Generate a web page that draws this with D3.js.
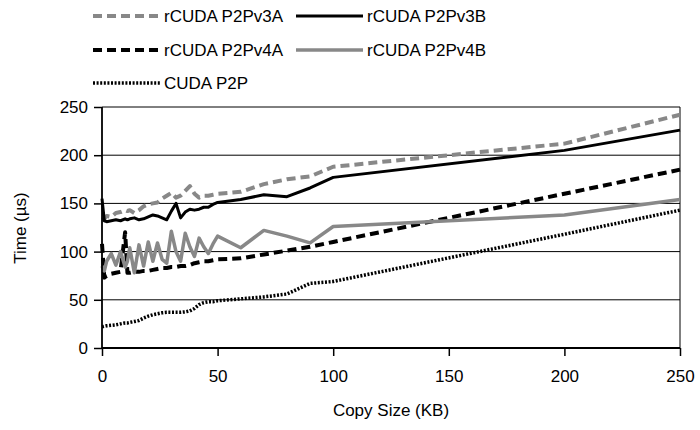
<!DOCTYPE html>
<html>
<head>
<meta charset="utf-8">
<script src="https://cdn.jsdelivr.net/npm/d3@7"></script>
<style>
  body { margin: 0; background: #fff; }
  svg { font-family: "Liberation Sans", Arial, sans-serif; }
</style>
</head>
<body>
<svg id="chart" width="700" height="430"></svg>
<script>
// copy sizes (KB), shared by every series
var sizes = [0, 1, 2, 4, 6, 8, 10, 11, 12, 14, 16, 18, 20, 22, 24, 26, 28, 30, 32, 34,
             36, 38, 40, 42, 44, 46, 48, 50, 60, 70, 80, 90, 100, 200, 250];

var v3A = [133, 134, 137, 136, 140, 141, 143, 142, 143, 140, 143, 147, 149, 150, 151, 155, 158, 161, 156, 158,
           163, 168, 160, 156, 158, 158, 159, 160, 162, 170, 175, 178, 188, 212, 242];
var v3B = [155, 132, 131, 132, 133, 132, 134, 133, 134, 135, 133, 134, 136, 138, 137, 135, 133, 142, 150, 135,
           141, 144, 143, 144, 146, 146, 149, 151, 154, 159, 157, 166, 177, 205, 226];
var v4A = [108, 73, 75, 77, 78, 79, 120, 78, 78, 79, 79, 80, 80, 81, 82, 83, 83, 84, 84, 85,
           85, 86, 88, 89, 90, 90, 91, 92, 93, 97, 101, 105, 110, 160, 185];
var v4B = [85, 80, 90, 98, 86, 100, 84, 90, 104, 78, 107, 85, 110, 90, 109, 92, 88, 121, 100, 90,
           119, 105, 95, 114, 105, 98, 108, 116, 104, 122, 116, 109, 126, 138, 154];
var cuda = [22, 22.5, 23, 23.5, 24, 25, 26, 26, 26.5, 27.5, 28.5, 31, 33, 34.5, 35.5, 36.5, 37, 37, 37, 37,
            37.5, 38.5, 41, 45, 47, 48, 48, 49, 51, 53, 56, 67, 69, 118, 143];

var xTicks = [0, 50, 100, 150, 200, 250];
var yTicks = [0, 50, 100, 150, 200, 250];

var series = [
    { name: 'rCUDA P2Pv3A', values: v3A, color: '#888888', width: 4, dash: '9,5' },
    { name: 'rCUDA P2Pv3B', values: v3B, color: '#000000', width: 3, dash: null },
    { name: 'rCUDA P2Pv4A', values: v4A, color: '#000000', width: 4, dash: '9,5' },
    { name: 'rCUDA P2Pv4B', values: v4B, color: '#888888', width: 3.5, dash: null },
    { name: 'CUDA P2P', values: cuda, color: '#000000', width: 3.5, dash: '2,1.6' }
];

var svg = d3.select('#chart');
var margin = { top: 107, right: 20, bottom: 82, left: 102 };
var width = 680 - margin.left;
var height = 348 - margin.top;

var x = d3.scaleLinear().domain([0, 250]).range([0, width]);
var y = d3.scaleLinear().domain([0, 250]).range([height, 0]);

var g = svg.append('g')
    .attr('transform', 'translate(' + margin.left + ',' + margin.top + ')');

// horizontal grid
g.append('g')
    .selectAll('line')
    .data(yTicks.slice(1))
    .enter()
    .append('line')
    .attr('x1', 0)
    .attr('x2', width)
    .attr('y1', d => y(d))
    .attr('y2', d => y(d))
    .attr('stroke', '#000')
    .attr('stroke-width', 1);

// right border
g.append('line')
    .attr('x1', width).attr('x2', width)
    .attr('y1', 0).attr('y2', height)
    .attr('stroke', '#000')
    .attr('stroke-width', 1);

var line = d3.line()
    .x((d, i) => x(sizes[i]))
    .y(d => y(d));

series.forEach(s => {
    g.append('path')
        .datum(s.values)
        .attr('d', line)
        .attr('fill', 'none')
        .attr('stroke', s.color)
        .attr('stroke-width', s.width)
        .attr('stroke-dasharray', s.dash)
        .attr('stroke-linejoin', 'round');
});

// axes
var xAxis = g.append('g')
    .attr('transform', 'translate(0,' + height + ')')
    .call(d3.axisBottom(x).tickValues(xTicks).tickSize(8).tickPadding(14));
var yAxis = g.append('g')
    .call(d3.axisLeft(y).tickValues(yTicks).tickSize(8).tickPadding(6));

[xAxis, yAxis].forEach(a => {
    a.select('.domain').attr('stroke', '#000').attr('stroke-width', 1.8);
    a.selectAll('.tick line').attr('stroke', '#000').attr('stroke-width', 1.5);
    a.selectAll('.tick text')
        .attr('font-size', 17)
        .attr('font-family', '"Liberation Sans", Arial, sans-serif')
        .attr('fill', '#000');
});
xAxis.select('.domain').attr('d', 'M0,0H' + width);
yAxis.select('.domain').attr('d', 'M0,' + height + 'V0');

svg.append('text')
    .attr('x', 391)
    .attr('y', 416)
    .attr('text-anchor', 'middle')
    .attr('font-size', 17)
    .text('Copy Size (KB)');

svg.append('text')
    .attr('transform', 'translate(26,228) rotate(-90)')
    .attr('text-anchor', 'middle')
    .attr('font-size', 17)
    .text('Time (µs)');

// legend
var legendPos = [
    { x: 93, y: 16 }, { x: 296, y: 16 },
    { x: 93, y: 50 }, { x: 296, y: 50 },
    { x: 93, y: 83 }
];

var legend = svg.append('g');
series.forEach((s, i) => {
    var p = legendPos[i];
    legend.append('line')
        .attr('x1', p.x).attr('x2', p.x + 67)
        .attr('y1', p.y).attr('y2', p.y)
        .attr('stroke', s.color)
        .attr('stroke-width', s.width)
        .attr('stroke-dasharray', s.dash);
    legend.append('text')
        .attr('x', p.x + 71)
        .attr('y', p.y)
        .attr('dy', '0.35em')
        .attr('font-size', 17)
        .text(s.name);
});
</script>
</body>
</html>
